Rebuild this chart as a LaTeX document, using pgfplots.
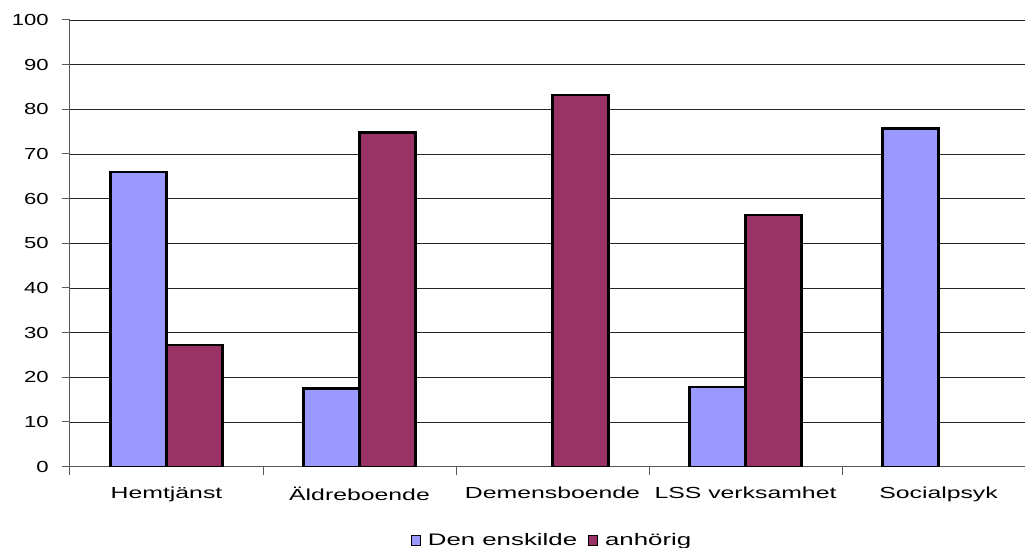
\documentclass[border=0pt]{standalone}
\usepackage{fontspec}
\setmainfont{Liberation Sans}[FakeStretch=1.55]
\newfontfamily\yfont{Liberation Sans}[FakeStretch=1.38]
\usepackage{pgfplots}
\pgfplotsset{compat=1.18}
\definecolor{cblue}{HTML}{9999FF}
\definecolor{cred}{HTML}{993366}
\begin{document}
\begin{tikzpicture}
\begin{axis}[
  name=ax,
  scale only axis,
  width=716.25pt, height=335pt,
  xmin=-0.5, xmax=4.448,
  ymin=0, ymax=100,
  ytick={0,10,...,100},
  ymajorgrids,
  grid style={black!85, line width=0.7pt},
  axis x line=bottom, axis y line=left,
  axis line style={-, gray!70!black, line width=0.75pt},
  tick align=outside,
  major tick length=6pt,
  tick style={gray!70!black, line width=0.75pt},
  xtick={-0.5,0.5,1.5,2.5,3.5},
  xticklabels={},
  extra x ticks={0,1,2,3,4},
  extra x tick labels={Hemtjänst,Äldreboende,Demensboende,LSS verksamhet,Socialpsyk},
  extra x tick style={tick style={draw=none}},
  /pgf/number format/assume math mode=true,
  xticklabel style={font=\fontsize{12}{14}\selectfont, yshift=-6pt},
  yticklabel style={font=\yfont\fontsize{12}{14}\selectfont, xshift=-6.5pt},
  ybar, ybar=0pt,
  legend style={at={(0.505,-0.165)}, anchor=center, draw=none, legend columns=2,
    font=\fontsize{12.5}{14}\selectfont,
    /tikz/every odd column/.append style={column sep=3pt},
    /tikz/every even column/.append style={column sep=6pt}},
  legend image code/.code={\draw[#1, line width=0.7pt] (0pt,-3.6pt) rectangle (7.2pt,3.6pt);},
]
\addplot[fill=cblue, draw=black, line width=1.6pt, bar width=42pt, bar shift=-21pt]
  coordinates {(0,66.0) (1,17.5) (3,17.8) (4,75.7)};
\addplot[fill=cred, draw=black, line width=1.6pt, bar width=42pt, bar shift=21pt]
  coordinates {(0,27.3) (1,74.8) (2,83.3) (3,56.3)};
\legend{Den enskilde, anhörig}
\end{axis}
\pgfresetboundingbox
\path[use as bounding box] ([shift={(-52.5pt,-61pt)}]ax.south west) rectangle ([shift={(0pt,15pt)}]ax.north east);
\end{tikzpicture}
\end{document}
